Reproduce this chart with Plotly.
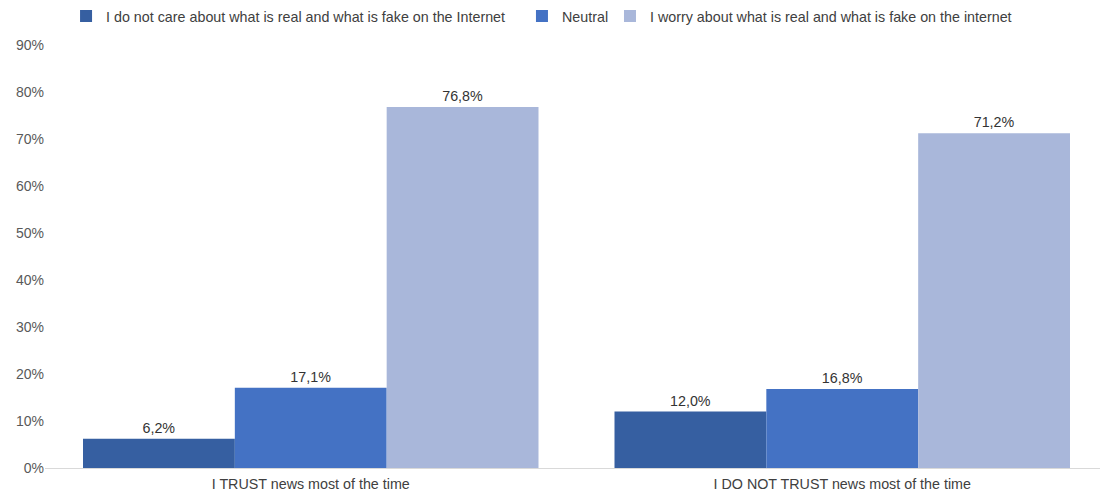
import plotly.graph_objects as go

categories = ["I TRUST news most of the time", "I DO NOT TRUST news most of the time"]
series_names = [
    "I do not care about what is real and what is fake on the Internet",
    "Neutral",
    "I worry about what is real and what is fake on the internet",
]
dont_care = [0.062, 0.120]
neutral = [0.171, 0.168]
worry = [0.768, 0.712]
tick_vals = [0, 0.1, 0.2, 0.3, 0.4, 0.5, 0.6, 0.7, 0.8, 0.9]
tick_text = ["0%", "10%", "20%", "30%", "40%", "50%", "60%", "70%", "80%", "90%"]

colors = ["#365FA1", "#4472C4", "#A9B7DA"]
legend_ids = ["legend", "legend2", "legend3"]
legend_x = [0.0198, 0.4487, 0.5315]

fig = go.Figure()
for name, vals, col, lg in zip(series_names, [dont_care, neutral, worry], colors, legend_ids):
    fig.add_trace(go.Bar(
        x=categories, y=vals, name=name, legend=lg, showlegend=True,
        marker=dict(color=col, line=dict(width=0)),
        text=[f"{v*100:.1f}%".replace(".", ",") for v in vals],
        textposition="outside",
        textfont=dict(color="#333333", size=14.3),
        cliponaxis=False,
    ))

# page body adds an 8px offset, so the figure is sized/margined to compensate
fig.update_layout(
    width=1100, height=485, showlegend=True,
    barmode="group", bargap=0.143, bargroupgap=0,
    plot_bgcolor="white", paper_bgcolor="white",
    font=dict(family="Liberation Sans, Arial", size=14, color="#595959"),
    margin=dict(l=37, r=0, t=37, b=25, autoexpand=False),
    xaxis=dict(showline=True, linecolor="#D9D9D9", linewidth=1,
               ticks="outside", ticklen=3, tickcolor="rgba(0,0,0,0)",
               tickfont=dict(size=14.3, color="#404040")),
    yaxis=dict(range=[0, 0.9], tickvals=tick_vals, ticktext=tick_text,
               showgrid=False, zeroline=False, showline=False,
               tickfont=dict(size=14, color="#595959")),
)
for lg, lx in zip(legend_ids, legend_x):
    fig.update_layout({lg: dict(
        x=lx, xanchor="left", y=1.106, yanchor="top",
        orientation="h", itemwidth=30,
        bgcolor="rgba(0,0,0,0)", font=dict(size=14.3, color="#404040"),
    )})

fig.write_html("out.html")
